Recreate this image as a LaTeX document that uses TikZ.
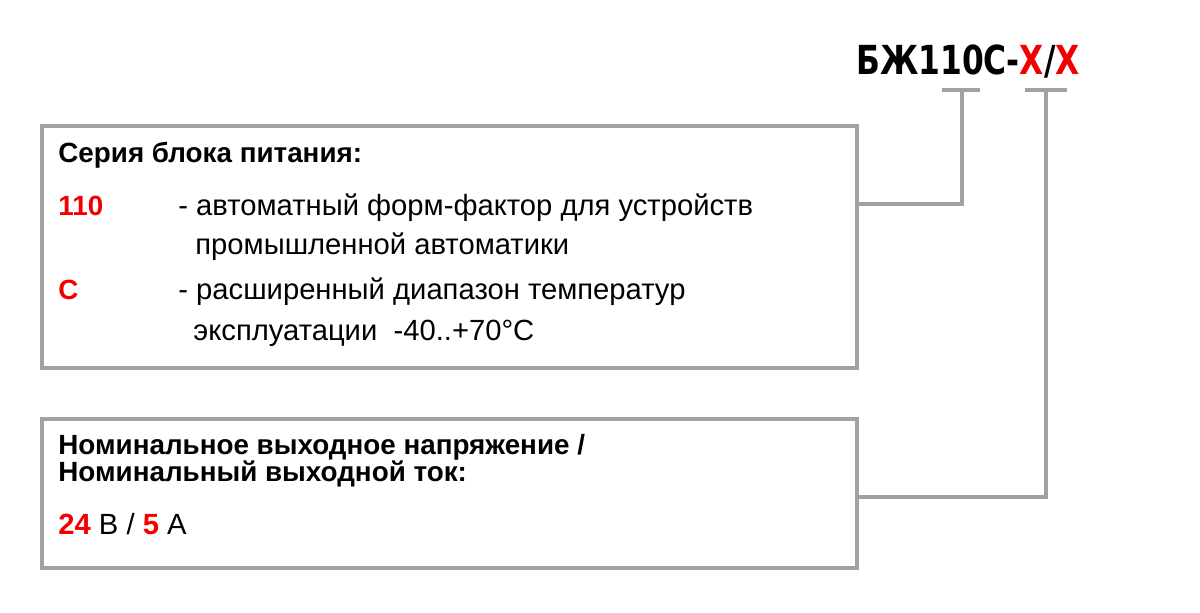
\documentclass[tikz,border=0pt]{standalone}
\usepackage{fontspec}
\setmainfont{Liberation Sans}
\newfontfamily\codefont{DejaVu Sans Condensed}
\usepackage{xcolor}
\usetikzlibrary{positioning}
\definecolor{bRed}{HTML}{F20000}
\definecolor{bLine}{HTML}{9DA3A3}
\definecolor{bInk}{HTML}{000000}
\tikzset{
  frame/.style={draw=bLine, line width=2pt, inner sep=0pt, anchor=north west,
    minimum width=407.5pt},
  link/.style={draw=bLine, line width=2pt},
  txt/.style={anchor=base west, inner sep=0pt, font=\fontsize{14.6}{16}\selectfont, text=bInk},
  head/.style={txt, font=\fontsize{13.9}{16}\selectfont\bfseries},
  key/.style={head, text=bRed},
}

\begin{document}
\begin{tikzpicture}[x=0.5pt, y=-0.5pt]
  \useasboundingbox (0,0) rectangle (1200,613);
  % model code
  \node[anchor=base east, inner sep=0pt, font=\codefont\bfseries\fontsize{20}{22}\selectfont] (code) at (1080,75)
    {\scalebox{0.87}[1]{БЖ110С-\textcolor{bRed}{X}/\textcolor{bRed}{X}}};
  \coordinate (k1) at (962,90);
  \coordinate (k2) at (1046,90);
  \draw[link] ([xshift=-10pt]k1) -- ([xshift=9pt]k1);
  \draw[link] ([xshift=-10.5pt]k2) -- ([xshift=10.5pt]k2);
  % boxes
  \node[frame, minimum height=121pt] (seria) at (40,124) {};
  \node[frame, minimum height=74.5pt] (nom) at (40,417) {};
  % series text
  \node[head] (sh) at (58,163) {Серия блока питания:};
  \node[key] (s1) at (58,216) {110};
  \node[txt] (s1a) at (178,216) {- автоматный форм-фактор для устройств};
  \node[txt] (s1b) at (195,255) {промышленной автоматики};
  \node[key] (s2) at (58,300) {С};
  \node[txt] (s2a) at (178,300) {- расширенный диапазон температур};
  \node[txt] (s2b) at (193,341) {эксплуатации\ \ -40..+70°C};
  % output text
  \node[head] (nh1) at (58,455) {Номинальное выходное напряжение /};
  \node[head] (nh2) at (58,482) {Номинальный выходной ток:};
  \node[txt] (nv) at (58,535) {\textcolor{bRed}{\bfseries 24} В / \textcolor{bRed}{\bfseries 5} А};
  % connectors
  \draw[link] (k1) |- (seria.east |- 0,204);
  \draw[link] (k2) |- (nom.east |- 0,497);
\end{tikzpicture}
\end{document}
